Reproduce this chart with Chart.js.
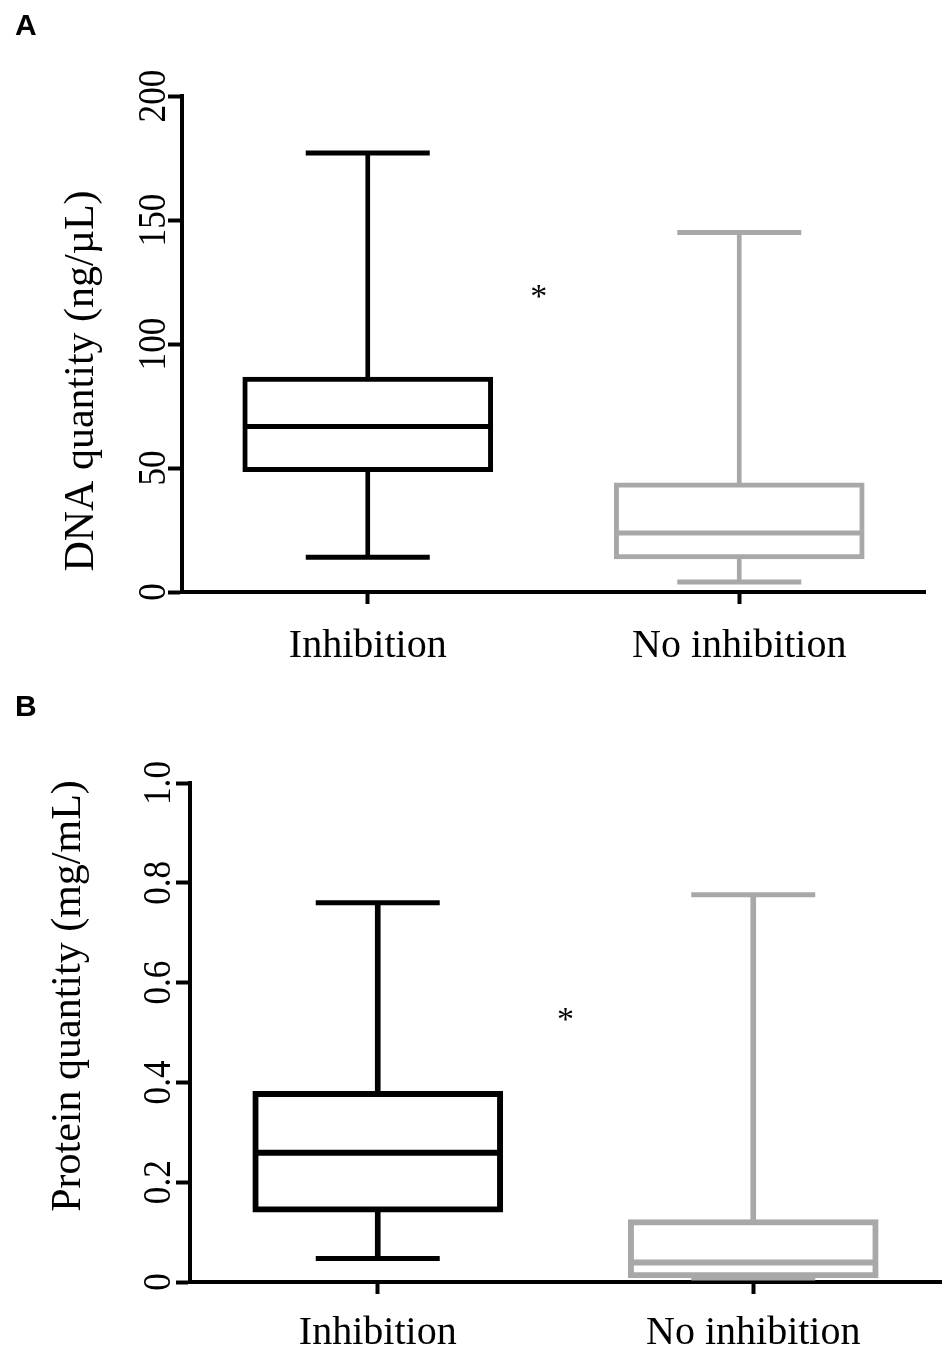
<!DOCTYPE html>
<html>
<head>
<meta charset="utf-8">
<script src="https://cdn.jsdelivr.net/npm/chart.js@4.4.1/dist/chart.umd.min.js"></script>
<style>
html, body { margin: 0; padding: 0; background: #fff; }
.panel { position: relative; width: 950px; height: 676px; }
canvas { display: block; }
</style>
</head>
<body>
<div class="panel"><canvas id="chartA" width="950" height="676"></canvas></div>
<div class="panel"><canvas id="chartB" width="950" height="676"></canvas></div>
<script>
// Box plot values
const groups = ['Inhibition', 'No inhibition'];
const groupColors = ['#000000', '#a8a8a8'];

// Panel A - DNA quantity (ng/µL)
const dnaMin = [14, 4];
const dnaQ1 = [48.5, 13.3];
const dnaMedian = [66.7, 23.8];
const dnaQ3 = [86.7, 44];
const dnaMax = [177, 145];
const dnaTicks = [0, 50, 100, 150, 200];
const dnaTickLabels = ['0', '50', '100', '150', '200'];

// Panel B - Protein quantity (mg/mL)
const protMin = [0.047, 0.008];
const protQ1 = [0.140, 0.008];
const protMedian = [0.259, 0.039];
const protQ3 = [0.382, 0.125];
const protMax = [0.760, 0.776];
const protTicks = [0, 0.2, 0.4, 0.6, 0.8, 1.0];
const protTickLabels = ['0', '0.2', '0.4', '0.6', '0.8', '1.0'];

const SERIF = "'Liberation Serif', 'Times New Roman', serif";
const SANS = "'Liberation Sans', Arial, sans-serif";

// Rotated tick labels, axis title, significance star and panel letter
const panelTextPlugin = {
    id: 'panelText',
    afterDraw(chart, args, opts) {
        const ctx = chart.ctx;
        const xs = chart.scales.x;
        const ys = chart.scales.y;
        ctx.save();
        ctx.fillStyle = '#000';

        ctx.font = `${opts.tickSize}px ${SERIF}`;
        ctx.textAlign = 'center';
        ctx.textBaseline = 'alphabetic';
        opts.tickValues.forEach((v, i) => {
            ctx.save();
            ctx.translate(opts.tickBaseX, ys.getPixelForValue(v));
            ctx.rotate(-Math.PI / 2);
            ctx.scale(0.88, 1);
            ctx.fillText(opts.tickLabels[i], 0, 0);
            ctx.restore();
        });

        ctx.save();
        ctx.font = `${opts.titleSize}px ${SERIF}`;
        ctx.translate(opts.titleBaseX, opts.titleCenterY);
        ctx.rotate(-Math.PI / 2);
        ctx.fillText(opts.title, 0, 0);
        ctx.restore();

        ctx.font = `34px ${SERIF}`;
        ctx.textBaseline = 'middle';
        ctx.fillText('*', xs.getPixelForValue(opts.starX), ys.getPixelForValue(opts.starY) + 6);

        ctx.font = `bold 30px ${SANS}`;
        ctx.textAlign = 'left';
        ctx.textBaseline = 'alphabetic';
        ctx.fillText(opts.letter, 15, opts.letterY);
        ctx.restore();
    }
};

function buildBoxChart(canvasId, s) {
    const pair = (a, b) => a.map((v, i) => [v, b[i]]);
    const pointLine = (label, data, radius, width, order) => ({
        type: 'line',
        label,
        data,
        showLine: false,
        pointStyle: 'line',
        pointRadius: radius,
        pointHoverRadius: radius,
        pointBorderWidth: width,
        pointBorderColor: groupColors,
        pointBackgroundColor: groupColors,
        clip: false,
        order
    });

    return new Chart(document.getElementById(canvasId), {
        type: 'bar',
        data: {
            labels: groups,
            datasets: [
                {
                    label: 'whisker',
                    data: pair(s.min, s.max),
                    backgroundColor: groupColors,
                    borderWidth: 0,
                    barThickness: s.whiskerWidth,
                    grouped: false,
                    order: 4
                },
                {
                    label: 'box',
                    data: pair(s.q1, s.q3),
                    backgroundColor: '#ffffff',
                    borderColor: groupColors,
                    borderWidth: s.boxLine,
                    borderSkipped: false,
                    barThickness: 250,
                    grouped: false,
                    order: 3
                },
                pointLine('median', s.median, 122, s.boxLine, 2),
                pointLine('max', s.max, 62, 5, 1),
                pointLine('min', s.min, 62, 5, 1)
            ]
        },
        options: {
            responsive: false,
            animation: false,
            layout: {
                autoPadding: false,
                padding: { top: s.padTop, right: s.padRight, bottom: 0, left: 0 }
            },
            plugins: {
                legend: { display: false },
                tooltip: { enabled: false },
                panelText: s.text
            },
            scales: {
                x: {
                    offset: true,
                    grid: {
                        display: true, drawOnChartArea: false, drawTicks: true,
                        tickLength: 12, tickWidth: 4, tickColor: '#000', offset: false
                    },
                    border: { display: true, color: '#000', width: 4 },
                    ticks: { color: '#000', padding: s.xLabelPad, font: { family: SERIF, size: 40 } },
                    afterFit: (scale) => { scale.height = s.xHeight; }
                },
                y: {
                    min: s.yMin,
                    max: s.yMax,
                    grid: {
                        display: true, drawOnChartArea: false, drawTicks: true,
                        tickLength: 14, tickWidth: 4, tickColor: '#000'
                    },
                    border: { display: true, color: '#000', width: 4 },
                    ticks: { display: false, stepSize: s.step },
                    afterFit: (scale) => { scale.width = s.yWidth; }
                }
            }
        },
        plugins: [panelTextPlugin]
    });
}

buildBoxChart('chartA', {
    min: dnaMin, q1: dnaQ1, median: dnaMedian, q3: dnaQ3, max: dnaMax,
    yMin: 0, yMax: 200, step: 50,
    whiskerWidth: 4, boxLine: 5,
    padTop: 96, padRight: 25, xHeight: 84, yWidth: 182, xLabelPad: 18,
    text: {
        tickValues: dnaTicks, tickLabels: dnaTickLabels, tickSize: 40, tickBaseX: 165,
        title: 'DNA quantity (ng/µL)', titleSize: 42, titleBaseX: 93, titleCenterY: 381,
        starX: 0.46, starY: 121, letter: 'A', letterY: 35
    }
});

buildBoxChart('chartB', {
    min: protMin, q1: protQ1, median: protMedian, q3: protQ3, max: protMax,
    yMin: 0, yMax: 1.0, step: 0.2,
    whiskerWidth: 5, boxLine: 6,
    padTop: 107, padRight: 9, xHeight: 70, yWidth: 190, xLabelPad: 15,
    text: {
        tickValues: protTicks, tickLabels: protTickLabels, tickSize: 40, tickBaseX: 170,
        title: 'Protein quantity (mg/mL)', titleSize: 42, titleBaseX: 80, titleCenterY: 320,
        starX: 0.5, starY: 0.535, letter: 'B', letterY: 40
    }
});
</script>
</body>
</html>
